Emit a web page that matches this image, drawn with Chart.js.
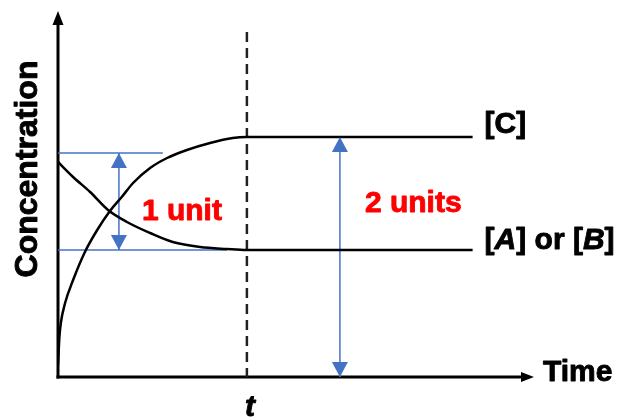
<!DOCTYPE html>
<html>
<head>
<meta charset="utf-8">
<style>
  html, body { margin: 0; padding: 0; background: #ffffff; }
  #wrap { width: 620px; height: 419px; }
</style>
<script src="https://cdn.jsdelivr.net/npm/chart.js@4.4.1/dist/chart.umd.min.js"></script>
</head>
<body>
<div id="wrap"><canvas id="chart" width="620" height="419"></canvas></div>
<script>
// ---- data (time in arbitrary units, concentration in arbitrary units) ----
const timeC  = [0, 0.03, 0.06, 0.15, 0.32, 0.57, 0.83, 1.10, 1.35, 1.59, 1.95, 2.31, 2.73, 3.22, 3.70, 4.00, 8.78];
const concC  = [0.12, 0.40, 0.54, 0.74, 0.97, 1.25, 1.47, 1.66, 1.80, 1.94, 2.09, 2.19, 2.27, 2.34, 2.39, 2.40, 2.40];
const timeAB = [0, 0.32, 0.68, 1.06, 1.46, 1.95, 2.43, 3.01, 3.58, 4.00, 8.78];
const concAB = [2.15, 2.00, 1.85, 1.67, 1.55, 1.44, 1.35, 1.30, 1.28, 1.27, 1.27];
const tValue = 4.0;           // equilibrium time t
const dashTop = 3.45;         // top of dashed t line
const oneUnitTop = 2.24;      // upper blue reference level
const oneUnitBottom = 1.27;   // lower blue reference level
const oneUnitTopEnd = 2.22;   // time where upper blue line ends
const oneUnitBottomEnd = 3.58;// time where lower blue line ends
const arrow1Time = 1.29;      // "1 unit" arrow position
const arrow2Time = 5.97;      // "2 units" arrow position
const cPlateau = 2.40;
const abPlateau = 1.27;
const xMax = 10.08;
const yMax = 3.66;
const labelC = '[C]';
const labelTime = 'Time';
const labelConc = 'Concentration';
const labelT = 't';
const label1 = '1 unit';
const label2 = '2 units';

const BLUE = '#4472C4';
const RED = '#FF0000';
const FONT = '"Liberation Sans", Arial, sans-serif';

function pts(xs, ys) { return xs.map((v, i) => ({ x: v, y: ys[i] })); }

const overlay = {
  id: 'overlay',
  beforeDatasetsDraw(chart) {
    const { ctx, scales: { x, y } } = chart;
    const ox = x.getPixelForValue(0), oy = y.getPixelForValue(0);
    ctx.save();
    ctx.strokeStyle = '#000';
    ctx.lineWidth = 3;
    ctx.beginPath();
    ctx.moveTo(ox, oy + 1.5);
    ctx.lineTo(ox, y.getPixelForValue(yMax) + 12);
    ctx.stroke();
    ctx.beginPath();
    ctx.moveTo(ox - 1.5, oy);
    ctx.lineTo(x.getPixelForValue(xMax) - 10, oy);
    ctx.stroke();
    ctx.restore();
  },
  afterDatasetsDraw(chart) {
    const { ctx, scales: { x, y } } = chart;
    const px = v => x.getPixelForValue(v), py = v => y.getPixelForValue(v);
    const ox = px(0), oy = py(0);

    function tri(tx, ty, dir, len, w, color) {
      ctx.fillStyle = color;
      ctx.beginPath();
      if (dir === 'up') {
        ctx.moveTo(tx, ty); ctx.lineTo(tx - w / 2, ty + len); ctx.lineTo(tx + w / 2, ty + len);
      } else if (dir === 'down') {
        ctx.moveTo(tx, ty); ctx.lineTo(tx - w / 2, ty - len); ctx.lineTo(tx + w / 2, ty - len);
      } else {
        ctx.moveTo(tx, ty); ctx.lineTo(tx - len, ty - w / 2); ctx.lineTo(tx - len, ty + w / 2);
      }
      ctx.closePath();
      ctx.fill();
    }
    function txt(s, tx, ty, color) {
      ctx.fillStyle = color;
      ctx.strokeStyle = color;
      ctx.lineWidth = 0.9;
      ctx.lineJoin = 'round';
      ctx.fillText(s, tx, ty);
      ctx.strokeText(s, tx, ty);
    }
    ctx.save();
    // axis arrowheads
    tri(ox, py(yMax), 'up', 14, 11, '#000');
    tri(px(xMax), oy, 'right', 13, 10, '#000');
    // blue arrowheads
    tri(px(arrow1Time), py(oneUnitTop), 'up', 15, 16, BLUE);
    tri(px(arrow1Time), py(oneUnitBottom), 'down', 15, 16, BLUE);
    tri(px(arrow2Time), py(cPlateau), 'up', 15, 16, BLUE);
    tri(px(arrow2Time), oy, 'down', 15, 16, BLUE);

    // texts
    ctx.textBaseline = 'alphabetic';
    ctx.textAlign = 'left';
    ctx.font = 'bold 30px ' + FONT;
    txt(labelTime, px(xMax) + 9, oy + 4, '#000');
    txt(labelC, px(8.78) + 12, py(cPlateau) - 4, '#000');

    // [A] or [B]
    let cx = px(8.78) + 12;
    const by = py(abPlateau) - 1;
    const segs = [['[', false], ['A', true], ['] or [', false], ['B', true], [']', false]];
    segs.forEach(([s, it]) => {
      ctx.font = (it ? 'italic ' : '') + 'bold 30px ' + FONT;
      txt(s, cx, by, '#000');
      cx += ctx.measureText(s).width;
    });

    // t
    ctx.font = 'italic bold 30px ' + FONT;
    ctx.textAlign = 'center';
    txt(labelT, px(tValue) + 3, oy + 39, '#000');

    // red labels
    ctx.textAlign = 'left';
    ctx.font = 'bold 30px ' + FONT;
    txt(label1, px(arrow1Time) + 23, py(1.57), RED);
    txt(label2, px(arrow2Time) + 25, py(1.65), RED);

    // y axis title
    ctx.font = 'bold 32px ' + FONT;
    ctx.translate(ox - 21, (py(yMax) + oy) / 2 - 25);
    ctx.rotate(-Math.PI / 2);
    ctx.textAlign = 'center';
    txt(labelConc, 0, 0, '#000');
    ctx.restore();
  }
};

new Chart(document.getElementById('chart'), {
  type: 'line',
  data: {
    datasets: [
      { data: pts(timeC, concC), borderColor: '#000', borderWidth: 2.5, pointRadius: 0, cubicInterpolationMode: 'monotone', fill: false },
      { data: pts(timeAB, concAB), borderColor: '#000', borderWidth: 2.5, pointRadius: 0, cubicInterpolationMode: 'monotone', fill: false },
      { data: [{ x: tValue, y: dashTop }, { x: tValue, y: 0 }], borderColor: '#222', borderWidth: 2.5, borderDash: [10, 6], pointRadius: 0 },
      { data: [{ x: 0, y: oneUnitTop }, { x: oneUnitTopEnd, y: oneUnitTop }], borderColor: BLUE, borderWidth: 1.5, pointRadius: 0 },
      { data: [{ x: 0, y: oneUnitBottom }, { x: oneUnitBottomEnd, y: oneUnitBottom }], borderColor: BLUE, borderWidth: 1.5, pointRadius: 0 },
      { data: [{ x: arrow1Time, y: oneUnitTop }, { x: arrow1Time, y: oneUnitBottom }], borderColor: BLUE, borderWidth: 1.5, pointRadius: 0 },
      { data: [{ x: arrow2Time, y: cPlateau }, { x: arrow2Time, y: 0 }], borderColor: BLUE, borderWidth: 1.5, pointRadius: 0 }
    ]
  },
  options: {
    responsive: false,
    animation: false,
    events: [],
    layout: { padding: { left: 58, right: 86, top: 11, bottom: 42 } },
    scales: {
      x: { type: 'linear', min: 0, max: xMax, display: false },
      y: { type: 'linear', min: 0, max: yMax, display: false }
    },
    plugins: { legend: { display: false }, tooltip: { enabled: false } }
  },
  plugins: [overlay]
});
</script>
</body>
</html>
